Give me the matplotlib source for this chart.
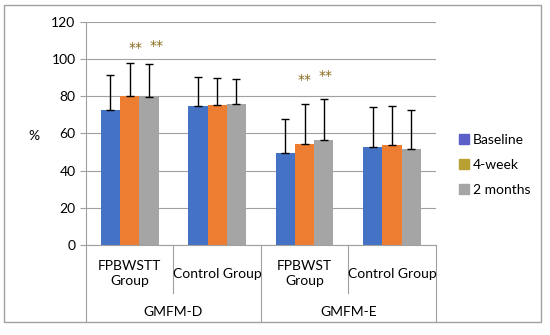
import numpy as np
import matplotlib.pyplot as plt
from matplotlib.patches import Patch

# data
categories = ['FPBWSTT\nGroup', 'Control Group', 'FPBWST\nGroup', 'Control Group']
outcome_groups = ['GMFM-D', 'GMFM-E']
series = ['Baseline', '4-week', '2 months']
baseline = [72.7, 74.7, 49.3, 52.9]
week4 = [80.0, 75.1, 54.3, 53.6]
months2 = [79.7, 75.8, 56.5, 51.5]
baseline_sd = [18.5, 15.8, 18.3, 21.5]
week4_sd = [17.7, 15.0, 21.3, 21.1]
months2_sd = [17.8, 13.6, 22.2, 21.2]
# significance markers: (x position, height)
stars_x = [0.066, 0.312, 2.0, 2.238]
stars_y = [105.8, 107.2, 88.7, 90.9]

plt.rcParams['font.family'] = ['Lato', 'DejaVu Sans']

colors = ['#4472C4', '#ED7D31', '#A5A5A5']
legend_colors = ['#5B5FC7', '#B8A032', '#A5A5A5']

fig = plt.figure(figsize=(5.5, 3.35), dpi=100)
ax = fig.add_axes([0.1564, 0.2687, 0.6358, 0.6657])

x = np.arange(len(categories))
width = 0.22
values = [baseline, week4, months2]
sds = [baseline_sd, week4_sd, months2_sd]
for i, (vals, sd) in enumerate(zip(values, sds)):
    pos = x + (i - 1) * width
    ax.bar(pos, vals, width, color=colors[i], zorder=2)
    ax.errorbar(pos, vals, yerr=[np.zeros(len(sd)), sd], fmt='none',
                ecolor='black', elinewidth=1, capsize=3, capthick=1, zorder=3)

for sx, sy in zip(stars_x, stars_y):
    ax.text(sx, sy, '**', color='#8C6D1F', fontsize=10, ha='center',
            va='center', family='DejaVu Sans')

ax.set_ylim(0, 120)
ax.set_xlim(-0.5, 3.5)
ax.set_yticks(range(0, 121, 20))
ax.yaxis.grid(True, color='#A0A0A0', linewidth=0.8, zorder=0)
ax.set_axisbelow(True)
ax.tick_params(axis='y', length=4, color='#A0A0A0', labelsize=10)
ax.tick_params(axis='x', length=0, labelbottom=False)
for s in ['top', 'right']:
    ax.spines[s].set_visible(False)
ax.spines['left'].set_color('#A0A0A0')
ax.spines['bottom'].set_color('#A0A0A0')
ax.set_ylabel('%', rotation=0, fontsize=10, labelpad=18, va='center')
ax.yaxis.set_label_coords(-0.15, 0.49)

# multi-level category axis
tr = ax.get_xaxis_transform()
for i, c in enumerate(categories):
    ax.text(i, -0.13, c, transform=tr, ha='center', va='center', fontsize=10,
            linespacing=1.3)
for sep in [0.5, 2.5]:
    ax.plot([sep, sep], [0, -0.215], transform=tr, color='#A0A0A0', lw=0.8,
            clip_on=False)
for sep in [-0.5, 1.5, 3.5]:
    ax.plot([sep, sep], [0, -0.34], transform=tr, color='#A0A0A0', lw=0.8,
            clip_on=False)
for j, g in enumerate(outcome_groups):
    ax.text(0.5 + 2 * j, -0.30, g, transform=tr, ha='center', va='center',
            fontsize=10)

handles = [Patch(color=c, label=s) for c, s in zip(legend_colors, series)]
fig.legend(handles=handles, loc='upper left', bbox_to_anchor=(0.812, 0.638),
           frameon=False, fontsize=10, handlelength=0.7, handleheight=0.7,
           handletextpad=0.3, labelspacing=0.95)

# outer chart border
fig.add_artist(plt.Rectangle((0.008, 0.04), 0.975, 0.945, transform=fig.transFigure,
                             fill=False, edgecolor='#A0A0A0', lw=1))

fig.savefig('out.png', dpi=100)
